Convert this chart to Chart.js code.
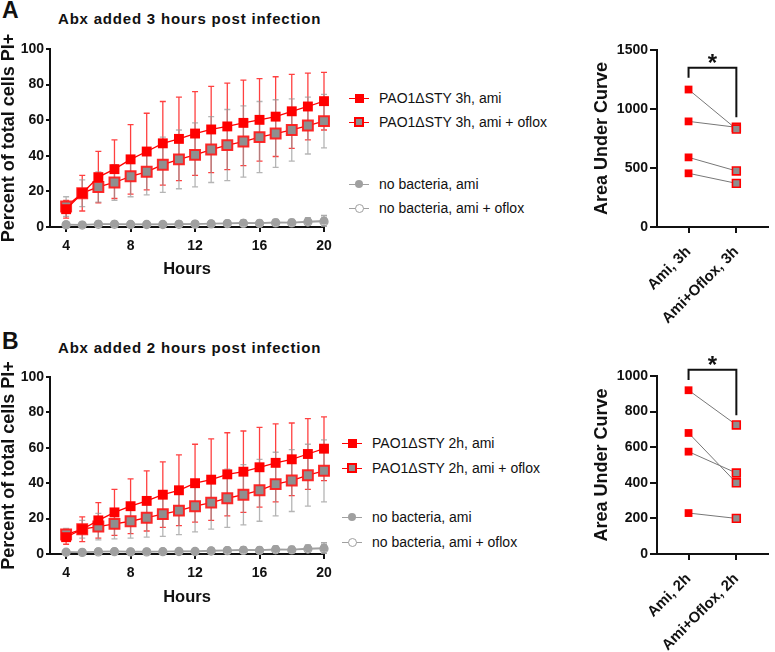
<!DOCTYPE html>
<html>
<head>
<meta charset="utf-8">
<script src="https://cdn.jsdelivr.net/npm/chart.js@4"></script>
<style>
body { margin:0; width:775px; height:652px; background:#fff; position:relative; overflow:hidden;
       font-family:"Liberation Sans", Arial, sans-serif; color:#111; }
canvas { position:absolute; }
.txt { position:absolute; white-space:nowrap; font-weight:bold; }
.panel { font-size:23px; line-height:25px; }
.title { font-size:15px; letter-spacing:0.8px; line-height:17px; }
.legend { position:absolute; font-size:14px; }
.row { position:absolute; left:0; height:16px; line-height:16px; white-space:nowrap; }
.row span.lbl { position:absolute; left:30px; top:0; }
.key { position:absolute; left:0; top:8px; width:20px; height:0; border-top:1.3px solid; }
.mk { position:absolute; box-sizing:border-box; }
</style>
</head>
<body>

<div class="txt panel" style="left:2px;top:-2px;">A</div>
<div class="txt title" style="left:58px;top:10px;">Abx added 3 hours post infection</div>
<div class="txt panel" style="left:2px;top:329px;">B</div>
<div class="txt title" style="left:58px;top:339px;">Abx added 2 hours post infection</div>

<canvas id="lineA" width="340" height="290" style="left:0;top:0;"></canvas>
<canvas id="lineB" width="340" height="290" style="left:0;top:330px;"></canvas>
<canvas id="aucA" width="215" height="300" style="left:560px;top:30px;"></canvas>
<canvas id="aucB" width="215" height="312" style="left:560px;top:340px;"></canvas>

<div class="legend" id="legA" style="left:349px;top:0;"></div>
<div class="legend" id="legB" style="left:342px;top:0;"></div>

<script>
// Time course (hours)
const hours = [4, 5, 6, 7, 8, 9, 10, 11, 12, 13, 14, 15, 16, 17, 18, 19, 20];
const hourTicks = [4, 8, 12, 16, 20];
const pctTicks = [0, 20, 40, 60, 80, 100];

// Panel A - abx added 3 h post infection (mean, SD)
const ami3 = [10, 19, 28, 32.5, 38, 42.4, 47, 49.5, 52.5, 54.8, 56.5, 58.5, 60.2, 62, 65, 67.7, 70.7];
const ami3Sd = [5, 10, 14.5, 16.5, 19.5, 21.5, 23.5, 23.5, 23.5, 24.2, 24.3, 24, 23.2, 22.4, 20.8, 18.8, 16.2];
const oflox3 = [11.5, 19, 22.5, 25, 28.5, 31, 35, 38, 40.5, 43.5, 46, 48, 50.5, 52.5, 54.5, 57, 59.5];
const oflox3Sd = [5.5, 7.5, 8.5, 10, 11.5, 13, 15.5, 16.5, 18, 18.5, 20, 20, 20, 19, 17.5, 16, 15];
const noBacAmi3 = [1.5, 1.3, 1.8, 1.8, 1.6, 1.6, 1.6, 1.8, 1.8, 2.0, 2.2, 2.4, 2.3, 2.7, 2.6, 3.2, 3.5];
const noBacAmi3Sd = [1, 0.8, 1, 1, 1, 1, 1, 1.1, 1.1, 1.2, 1.3, 1.4, 1.4, 1.6, 1.7, 2, 3];
const noBacOflox3 = [1.2, 1.1, 1.5, 1.5, 1.4, 1.4, 1.4, 1.5, 1.6, 1.7, 1.9, 2.0, 2.0, 2.3, 2.3, 2.8, 3.0];
const noBacOflox3Sd = [0.8, 0.7, 0.9, 0.9, 0.9, 0.9, 0.9, 1, 1, 1.1, 1.2, 1.2, 1.3, 1.4, 1.5, 1.7, 2.5];

// Panel B - abx added 2 h post infection (mean, SD)
const ami2 = [9.5, 14, 19, 23.5, 27, 30, 33.5, 36, 40, 42, 45, 46.5, 49, 51.5, 53.5, 56.5, 59.5];
const ami2Sd = [4, 7, 10, 13, 15.5, 17, 18.5, 20, 22, 23, 23.5, 23, 22.5, 22, 20.5, 20, 18];
const oflox2 = [11, 14, 15.5, 17, 18.5, 20.5, 22.5, 24.5, 27, 29, 31.5, 33.5, 36, 39.5, 41.5, 44.5, 47];
const oflox2Sd = [3.5, 5, 7.5, 8.5, 9.5, 11, 12.5, 13.5, 14.5, 15, 16.5, 17, 17.5, 18, 17.5, 17.5, 17.5];
const noBacAmi2 = [1.2, 1.0, 1.5, 1.6, 1.4, 1.4, 1.5, 1.6, 1.6, 2.0, 2.2, 2.4, 2.3, 2.8, 2.6, 3.2, 3.4];
const noBacAmi2Sd = [1, 0.8, 1, 1, 1, 1, 1, 1.1, 1.1, 1.2, 1.3, 1.4, 1.4, 1.6, 1.7, 2, 3];
const noBacOflox2 = [1.0, 0.9, 1.2, 1.3, 1.2, 1.2, 1.3, 1.4, 1.4, 1.7, 1.9, 2.0, 2.0, 2.4, 2.3, 2.8, 3.0];
const noBacOflox2Sd = [0.8, 0.7, 0.9, 0.9, 0.9, 0.9, 0.9, 1, 1, 1.1, 1.2, 1.2, 1.3, 1.4, 1.5, 1.7, 2.5];

// Area under curve, paired wells
const aucCats3 = ['Ami, 3h', 'Ami+Oflox, 3h'];
const aucAmi3 = [1165, 895, 590, 455];
const aucOflox3 = [830, 845, 475, 370];
const aucTicks3 = [0, 500, 1000, 1500];
const sig3 = [1350, 1265, 930];   // bracket top, left leg end, right leg end

const aucCats2 = ['Ami, 2h', 'Ami+Oflox, 2h'];
const aucAmi2 = [920, 680, 575, 230];
const aucOflox2 = [725, 400, 455, 200];
const aucTicks2 = [0, 200, 400, 600, 800, 1000];
const sig2 = [1035, 978, 780];

const RED = '#ff0000';
const GREY = '#a0a0a0';
const INK = '#111';
const FAM = '"Liberation Sans", Arial, sans-serif';

// Error bars drawn through the chart's scales
const errorBars = {
    id: 'errorBars',
    beforeDatasetsDraw(chart) {
        const ctx = chart.ctx;
        const xs = chart.scales.x, ys = chart.scales.y;
        chart.data.datasets.forEach(ds => {
            if (!ds.sd) return;
            ctx.save();
            ctx.strokeStyle = ds.errColor;
            ctx.lineWidth = 1.3;
            ds.data.forEach((p, i) => {
                const x = xs.getPixelForValue(p.x);
                const y1 = ys.getPixelForValue(p.y + ds.sd[i]);
                const y2 = ys.getPixelForValue(Math.max(0, p.y - ds.sd[i]));
                ctx.beginPath();
                ctx.moveTo(x, y1); ctx.lineTo(x, y2);
                ctx.moveTo(x - 3, y1); ctx.lineTo(x + 3, y1);
                ctx.moveTo(x - 3, y2); ctx.lineTo(x + 3, y2);
                ctx.stroke();
            });
            ctx.restore();
        });
    }
};

// Significance bracket for the AUC panels
const sigBracket = {
    id: 'sigBracket',
    afterDatasetsDraw(chart, args, opts) {
        const ctx = chart.ctx;
        const xs = chart.scales.x, ys = chart.scales.y;
        const x0 = xs.getPixelForValue(0), x1 = xs.getPixelForValue(1);
        const yt = ys.getPixelForValue(opts.levels[0]);
        ctx.save();
        ctx.strokeStyle = INK;
        ctx.lineWidth = 2;
        ctx.beginPath();
        ctx.moveTo(x0, ys.getPixelForValue(opts.levels[1]));
        ctx.lineTo(x0, yt);
        ctx.lineTo(x1, yt);
        ctx.lineTo(x1, ys.getPixelForValue(opts.levels[2]));
        ctx.stroke();
        ctx.fillStyle = INK;
        ctx.font = 'bold 24px ' + FAM;
        ctx.textAlign = 'center';
        ctx.textBaseline = 'alphabetic';
        ctx.fillText('*', (x0 + x1) / 2, yt + 3);
        ctx.restore();
    }
};

function pts(vals) {
    return vals.map((v, i) => ({ x: hours[i], y: v }));
}

function lineChart(id, sets, xHeight, titlePad) {
    const datasets = [
        { data: pts(sets.ami), sd: sets.amiSd, errColor: 'rgba(255,0,0,0.75)',
          borderColor: RED, borderWidth: 1.3, pointStyle: 'rect', pointRadius: 7,
          pointBackgroundColor: RED, pointBorderColor: RED, pointBorderWidth: 0 },
        { data: pts(sets.oflox), sd: sets.ofloxSd, errColor: 'rgba(150,150,150,0.7)',
          borderColor: RED, borderWidth: 1.3, pointStyle: 'rect', pointRadius: 7,
          pointBackgroundColor: '#8f8f8f', pointBorderColor: 'rgba(255,30,30,0.95)', pointBorderWidth: 2 },
        { data: pts(sets.noAmi), sd: sets.noAmiSd, errColor: 'rgba(150,150,150,0.8)',
          borderColor: GREY, borderWidth: 1.3, pointStyle: 'circle', pointRadius: 4,
          pointBackgroundColor: GREY, pointBorderColor: GREY, pointBorderWidth: 0 },
        { data: pts(sets.noOflox), sd: sets.noOfloxSd, errColor: 'rgba(150,150,150,0.8)',
          borderColor: GREY, borderWidth: 1.3, pointStyle: 'circle', pointRadius: 4,
          pointBackgroundColor: '#fff', pointBorderColor: GREY, pointBorderWidth: 1.3 }
    ];
    datasets.forEach(d => { d.clip = false; d.fill = false; d.tension = 0; });

    return new Chart(document.getElementById(id), {
        type: 'line',
        data: { datasets: datasets },
        plugins: [errorBars],
        options: {
            responsive: false,
            animation: false,
            devicePixelRatio: 1,
            layout: { padding: { top: sets.top, right: 16, left: 0, bottom: 0 } },
            plugins: { legend: { display: false }, tooltip: { enabled: false } },
            scales: {
                x: {
                    type: 'linear', min: 3, max: 20,
                    afterBuildTicks: s => { s.ticks = hourTicks.map(v => ({ value: v })); },
                    afterFit: s => { s.height = xHeight; },
                    grid: { drawOnChartArea: false, tickLength: 5, color: INK, lineWidth: 2 },
                    border: { color: INK, width: 2 },
                    ticks: { color: INK, padding: 6, maxRotation: 0,
                             font: { size: 14, weight: 'bold', family: FAM } },
                    title: { display: true, text: 'Hours', color: INK, padding: { top: 0, bottom: titlePad },
                             font: { size: 16.5, weight: 'bold', lineHeight: 1, family: FAM } }
                },
                y: {
                    min: 0, max: 100,
                    afterBuildTicks: s => { s.ticks = pctTicks.map(v => ({ value: v })); },
                    afterFit: s => { s.width = 50; },
                    grid: { drawOnChartArea: false, tickLength: 4, color: INK, lineWidth: 2 },
                    border: { color: INK, width: 2 },
                    ticks: { color: INK, padding: 2, callback: v => String(v),
                             font: { size: 14, weight: 'bold', family: FAM } },
                    title: { display: true, text: 'Percent of total cells PI+', color: INK, padding: { top: 0, bottom: 0 },
                             font: { size: 18, weight: 'bold', lineHeight: 1, family: FAM } }
                }
            }
        }
    });
}

function aucChart(id, cats, ami, oflox, yTicks, sig, top, xHeight) {
    const datasets = ami.map((v, i) => ({
        data: [{ x: 0, y: v }, { x: 1, y: oflox[i] }],
        borderColor: '#777', borderWidth: 1, pointStyle: 'rect', pointRadius: 5.5,
        pointBackgroundColor: [RED, '#8f8f8f'], pointBorderColor: [RED, RED],
        pointBorderWidth: [0, 1.6], clip: false
    }));
    return new Chart(document.getElementById(id), {
        type: 'line',
        data: { datasets: datasets },
        plugins: [sigBracket],
        options: {
            responsive: false,
            animation: false,
            devicePixelRatio: 1,
            layout: { padding: { top: top, right: 2, left: 0, bottom: 0 } },
            plugins: { legend: { display: false }, tooltip: { enabled: false },
                       sigBracket: { levels: sig } },
            scales: {
                x: {
                    type: 'linear', min: -0.66, max: 1.66,
                    afterBuildTicks: s => { s.ticks = [0, 1].map(v => ({ value: v })); },
                    afterFit: s => { s.height = xHeight; },
                    grid: { drawOnChartArea: false, tickLength: 6, color: INK, lineWidth: 2 },
                    border: { color: INK, width: 2 },
                    ticks: { color: INK, padding: 10, minRotation: 45, maxRotation: 45,
                             callback: v => cats[v],
                             font: { size: 15, weight: 'bold', family: FAM } },
                },
                y: {
                    min: 0, max: yTicks[yTicks.length - 1],
                    afterBuildTicks: s => { s.ticks = yTicks.map(v => ({ value: v })); },
                    afterFit: s => { s.width = 97; },
                    grid: { drawOnChartArea: false, tickLength: 7, color: INK, lineWidth: 2 },
                    border: { color: INK, width: 2 },
                    ticks: { color: INK, padding: 2, callback: v => String(v),
                             font: { size: 14, weight: 'bold', family: FAM } },
                    title: { display: true, text: 'Area Under Curve', color: INK, padding: { top: 33, bottom: 0 },
                             font: { size: 18, weight: 'bold', lineHeight: 1, family: FAM } }
                }
            }
        }
    });
}

// HTML legends
function legend(id, labels, rowsY) {
    const styles = [
        { line: RED, mk: 'width:9px;height:9px;left:5.5px;top:3.5px;background:' + RED + ';' },
        { line: RED, mk: 'width:10px;height:10px;left:5px;top:3px;background:#8f8f8f;border:2px solid ' + RED + ';' },
        { line: GREY, mk: 'width:8px;height:8px;left:6px;top:4px;border-radius:50%;background:' + GREY + ';' },
        { line: GREY, mk: 'width:9px;height:9px;left:5.5px;top:3.5px;border-radius:50%;background:#fff;border:1.3px solid ' + GREY + ';' }
    ];
    const el = document.getElementById(id);
    labels.forEach((txt, i) => {
        const row = document.createElement('div');
        row.className = 'row';
        row.style.top = (rowsY[i] - 8) + 'px';
        row.innerHTML = '<div class="key" style="border-color:' + styles[i].line + '"></div>' +
            '<div class="mk" style="' + styles[i].mk + '"></div>' +
            '<span class="lbl">' + txt + '</span>';
        el.appendChild(row);
    });
}

lineChart('lineA', { ami: ami3, amiSd: ami3Sd, oflox: oflox3, ofloxSd: oflox3Sd,
                     noAmi: noBacAmi3, noAmiSd: noBacAmi3Sd, noOflox: noBacOflox3, noOfloxSd: noBacOflox3Sd,
                     top: 49 }, 63, 12);
lineChart('lineB', { ami: ami2, amiSd: ami2Sd, oflox: oflox2, ofloxSd: oflox2Sd,
                     noAmi: noBacAmi2, noAmiSd: noBacAmi2Sd, noOflox: noBacOflox2, noOfloxSd: noBacOflox2Sd,
                     top: 47 }, 66, 14);
aucChart('aucA', aucCats3, aucAmi3, aucOflox3, aucTicks3, sig3, 20, 103);
aucChart('aucB', aucCats2, aucAmi2, aucOflox2, aucTicks2, sig2, 36, 98);

legend('legA', ['PAO1\u0394STY 3h, ami', 'PAO1\u0394STY 3h, ami + oflox', 'no bacteria, ami', 'no bacteria, ami + oflox'],
       [98, 122, 184, 208]);
legend('legB', ['PAO1\u0394STY 2h, ami', 'PAO1\u0394STY 2h, ami + oflox', 'no bacteria, ami', 'no bacteria, ami + oflox'],
       [443, 468, 517, 542]);
</script>
</body>
</html>
